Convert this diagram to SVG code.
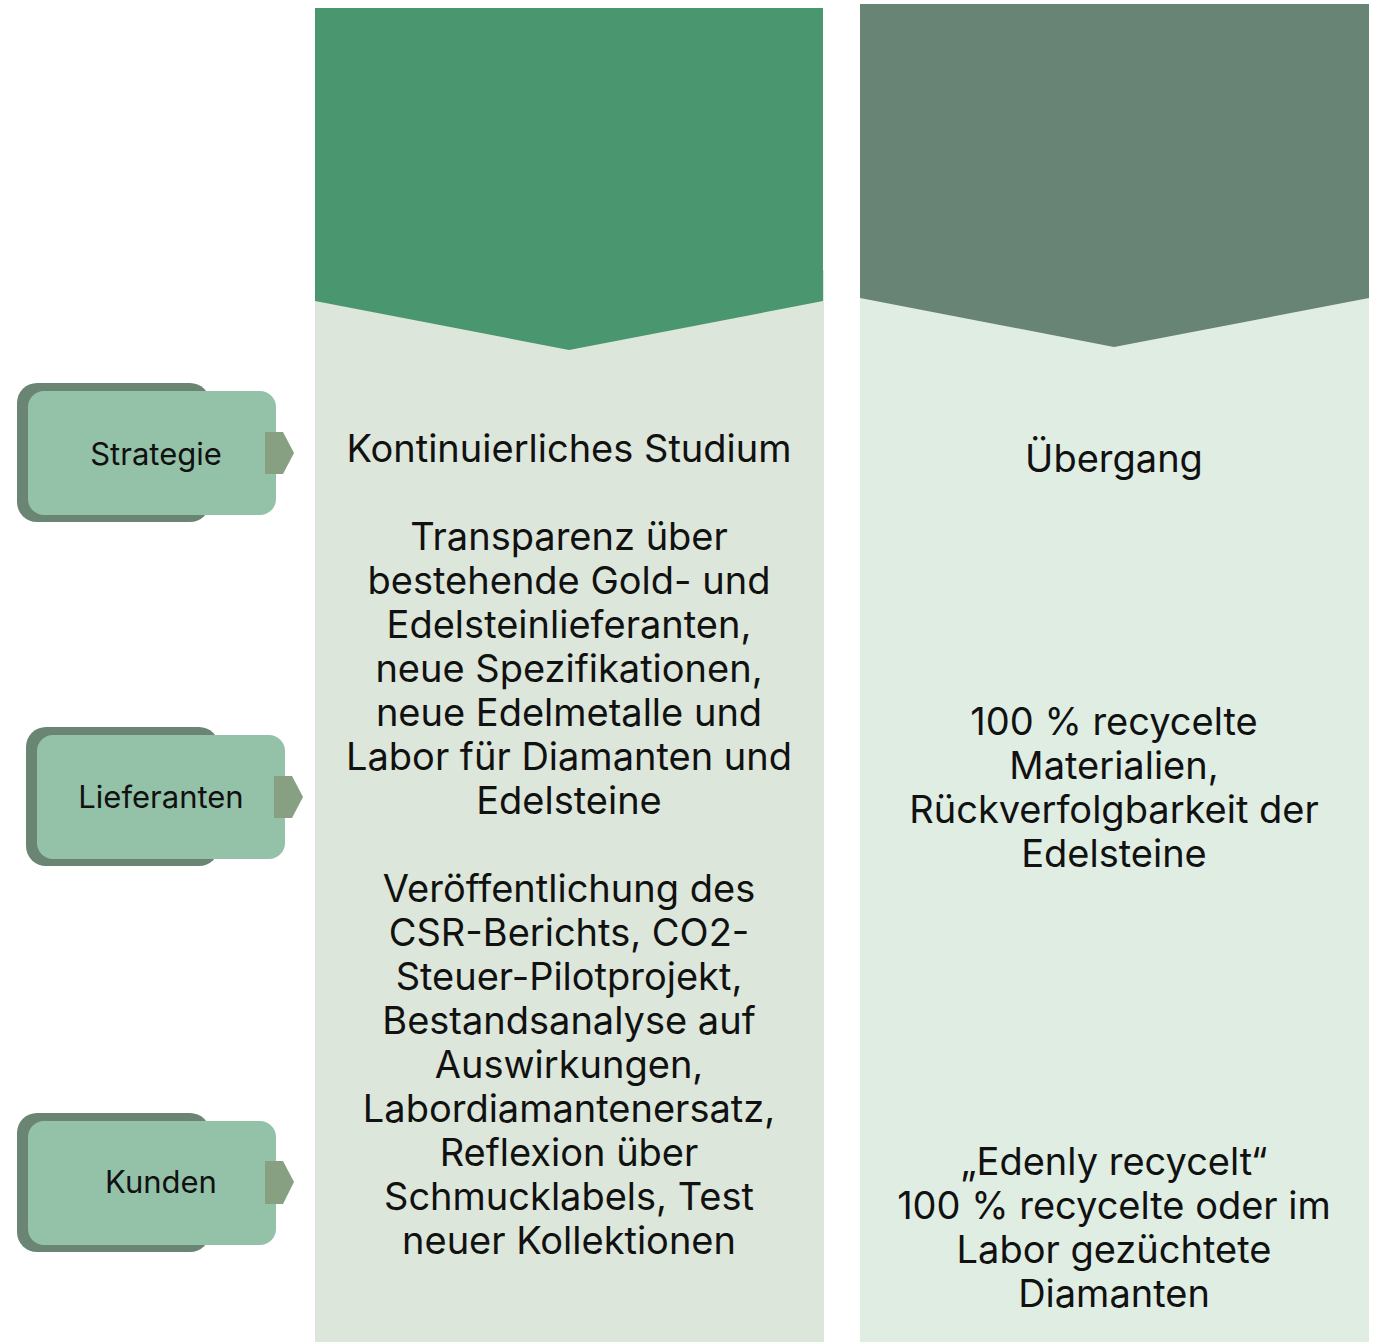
<svg xmlns="http://www.w3.org/2000/svg" width="1381" height="1342" viewBox="0 0 1381 1342">
<style>
.t{font-family:Inter,"Noto Sans","Liberation Sans",sans-serif;fill:#111;text-anchor:middle}
.big{font-size:38px}
.lbl{font-size:31px}
.back{fill:#6A8574}
.front{fill:#94C2A9}
.tab{fill:#87A081}
</style>
<rect width="1381" height="1342" fill="#FFFFFF"/>
<g id="col1">
<rect x="315" y="270" width="509" height="1072" fill="#DCE6DA"/>
<polygon points="315,8 823,8 823,301 569,350 315,301" fill="#49966F"/>
<text class="t big"><tspan x="569" y="462">Kontinuierliches Studium</tspan><tspan x="569" y="550">Transparenz über</tspan><tspan x="569" y="594">bestehende Gold- und</tspan><tspan x="569" y="638">Edelsteinlieferanten,</tspan><tspan x="569" y="682">neue Spezifikationen,</tspan><tspan x="569" y="726">neue Edelmetalle und</tspan><tspan x="569" y="770">Labor für Diamanten und</tspan><tspan x="569" y="814">Edelsteine</tspan><tspan x="569" y="902">Veröffentlichung des</tspan><tspan x="569" y="946">CSR-Berichts, CO2-</tspan><tspan x="569" y="990">Steuer-Pilotprojekt,</tspan><tspan x="569" y="1034">Bestandsanalyse auf</tspan><tspan x="569" y="1078">Auswirkungen,</tspan><tspan x="569" y="1122">Labordiamantenersatz,</tspan><tspan x="569" y="1166">Reflexion über</tspan><tspan x="569" y="1210">Schmucklabels, Test</tspan><tspan x="569" y="1254">neuer Kollektionen</tspan></text>
</g>
<g id="col2">
<rect x="860" y="270" width="509" height="1072" fill="#E0EDE3"/>
<polygon points="860,4 1369,4 1369,298 1114,347 860,298" fill="#688474"/>
<text class="t big"><tspan x="1114" y="472">Übergang</tspan><tspan x="1114" y="735">100 % recycelte</tspan><tspan x="1114" y="779">Materialien,</tspan><tspan x="1114" y="823">Rückverfolgbarkeit der</tspan><tspan x="1114" y="867">Edelsteine</tspan><tspan x="1114" y="1175">„Edenly recycelt“</tspan><tspan x="1114" y="1219">100 % recycelte oder im</tspan><tspan x="1114" y="1263">Labor gezüchtete</tspan><tspan x="1114" y="1307">Diamanten</tspan></text>
</g>
<g id="strategie">
<rect class="back" x="17" y="383" width="193" height="139" rx="20"/>
<rect class="front" x="28" y="391" width="248" height="124" rx="16"/>
<polygon class="tab" points="265,432 283,432 294,453 283,474 265,474"/>
<text class="t lbl" x="156" y="465">Strategie</text>
</g>
<g id="lieferanten">
<rect class="back" x="26" y="727" width="193" height="139" rx="20"/>
<rect class="front" x="37" y="735" width="248" height="124" rx="16"/>
<polygon class="tab" points="274,776 292,776 303,797 292,818 274,818"/>
<text class="t lbl" x="161" y="808">Lieferanten</text>
</g>
<g id="kunden">
<rect class="back" x="17" y="1113" width="193" height="139" rx="20"/>
<rect class="front" x="28" y="1121" width="248" height="124" rx="16"/>
<polygon class="tab" points="265,1161 283,1161 294,1182 283,1204 265,1204"/>
<text class="t lbl" x="161" y="1193">Kunden</text>
</g>
<g id="connectors"></g>
</svg>
